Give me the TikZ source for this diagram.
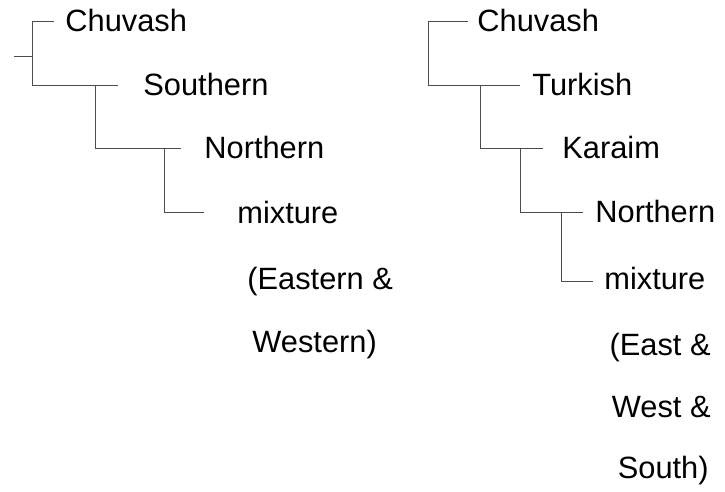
\documentclass[tikz,border=0pt]{standalone}
\usepackage{fontspec}
\setmainfont{Liberation Sans}

\begin{document}
\begin{tikzpicture}[x=0.5pt, y=-0.5pt,
    every node/.style={inner sep=0pt, font=\fontsize{15.4}{18}\selectfont},
    lang/.style={anchor=base west},
    more/.style={anchor=base east},
    branch/.style={black!70, line width=0.5pt}]
    \useasboundingbox (0,0) rectangle (725,492);

    % Left tree: forks
    \coordinate (Lroot) at (14,57);
    \coordinate (La) at (32,57);
    \coordinate (Lb) at (95,86);
    \coordinate (Lc) at (164,149);
    % Left tree: branch ends
    \coordinate (Lchuv) at (54,22);
    \coordinate (Lsouth) at (118,86);
    \coordinate (Lnorth) at (181,149);
    \coordinate (Lmix) at (204,213);
    \draw[branch] (Lroot) -- (La);
    \draw[branch] (La) |- (Lchuv);
    \draw[branch] (La) |- (Lsouth);
    \draw[branch] (Lb) |- (Lnorth);
    \draw[branch] (Lc) |- (Lmix);
    % Left tree: labels
    \node[lang] (lchuvash) at (65,32) {Chuvash};
    \node[lang] (lsouthern) at (143,96) {Southern};
    \node[lang] (lnorthern) at (204,159) {Northern};
    \node[lang] (lmixture) at (237,224) {mixture};
    \node[lang] (leastern) at (247,290) {(Eastern \&};
    \node[lang] (lwestern) at (252,353) {Western)};

    % Right tree: forks
    \coordinate (Ra) at (428,54);
    \coordinate (Rb) at (480,86);
    \coordinate (Rc) at (520,149);
    \coordinate (Rd) at (561,213);
    % Right tree: branch ends
    \coordinate (Rchuv) at (468,22);
    \coordinate (Rturk) at (520,86);
    \coordinate (Rkar) at (543,149);
    \coordinate (Rnorth) at (583,213);
    \coordinate (Rmix) at (593,282);
    \draw[branch] (Ra) |- (Rchuv);
    \draw[branch] (Ra) |- (Rturk);
    \draw[branch] (Rb) |- (Rkar);
    \draw[branch] (Rc) |- (Rnorth);
    \draw[branch] (Rd) |- (Rmix);
    % Right tree: labels
    \node[lang] (rchuvash) at (477,32) {Chuvash};
    \node[lang] (rturkish) at (532,96) {Turkish};
    \node[lang] (rkaraim) at (562,159) {Karaim};
    \node[lang] (rnorthern) at (595,223) {Northern};
    \node[lang] (rmixture) at (604,290) {mixture};
    \node[more] (reast) at (711,356) {(East \&};
    \node[more] (rwest) at (711,418) {West \&};
    \node[more] (rsouth) at (709,479) {South)};

\end{tikzpicture}
\end{document}
